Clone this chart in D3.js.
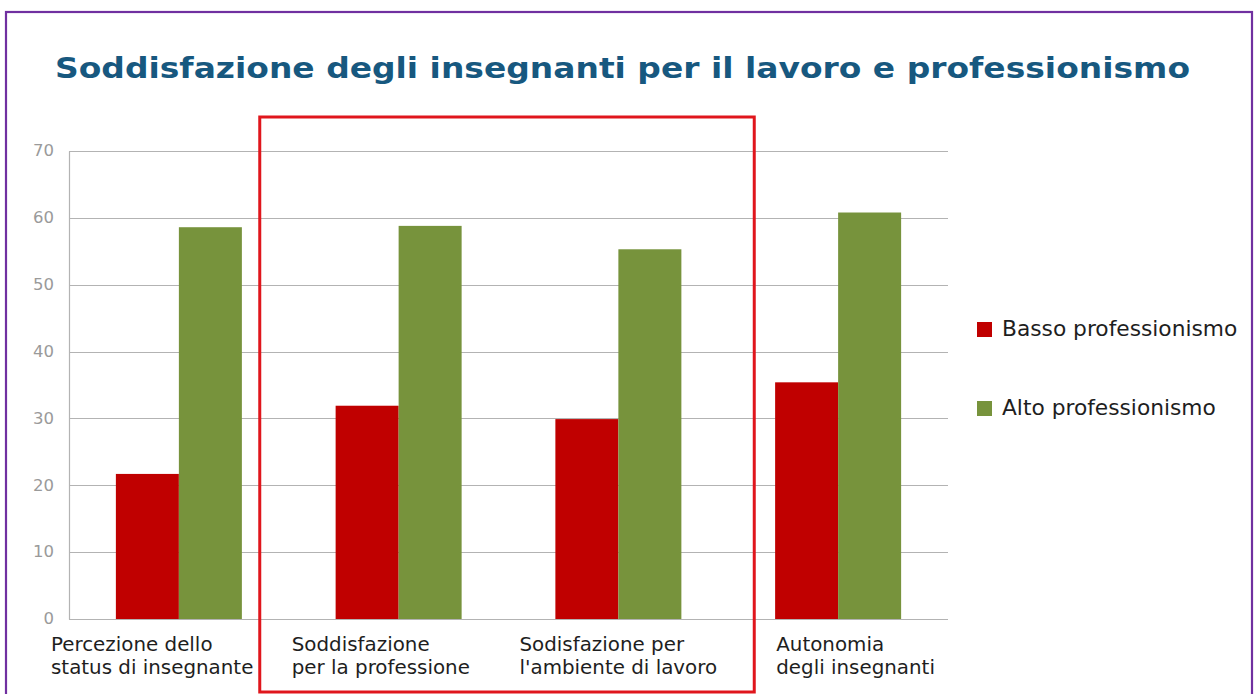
<!DOCTYPE html>
<html>
<head>
<meta charset="utf-8">
<script src="https://cdn.jsdelivr.net/npm/d3@7"></script>
<style>
  html, body { margin: 0; padding: 0; background: #ffffff; }
  svg { display: block; }
</style>
</head>
<body>
<svg id="chart" width="1256" height="694"></svg>
<script>
// Chart data
const titleText = "Soddisfazione degli insegnanti per il lavoro e professionismo";
const categories = [
  ["Percezione dello", "status di insegnante"],
  ["Soddisfazione", "per la professione"],
  ["Sodisfazione per", "l'ambiente di lavoro"],
  ["Autonomia", "degli insegnanti"]
];
const seriesNames = ["Basso professionismo", "Alto professionismo"];
const bassoValues = [21.7, 31.9, 29.9, 35.4];
const altoValues = [58.6, 58.8, 55.3, 60.8];
const yTicks = [0, 10, 20, 30, 40, 50, 60, 70];
const highlighted = [1, 2]; // categories framed by the red box

// Layout
const W = 1256, H = 694;
const plot = { left: 69, right: 948, top: 151, bottom: 619 };
const colors = ["#c00000", "#77933c"];
const labelNudge = [-18, 3, 11, 48];

const svg = d3.select("#chart");

// Widen text glyphs horizontally by a factor
function widen(sel, factor) {
  sel.each(function () {
    const w = this.getComputedTextLength();
    d3.select(this)
      .attr("textLength", w * factor)
      .attr("lengthAdjust", "spacingAndGlyphs");
  });
}

// Outer frame
svg.append("rect")
  .attr("x", 6).attr("y", 12)
  .attr("width", 1246).attr("height", 700)
  .attr("fill", "#ffffff")
  .attr("stroke", "#7030a0").attr("stroke-width", 2.2);

// Title
svg.append("text")
  .attr("x", 55).attr("y", 78)
  .attr("font-family", "DejaVu Sans")
  .attr("font-weight", "bold")
  .attr("font-size", 29)
  .attr("fill", "#17587f")
  .attr("textLength", 1135)
  .attr("lengthAdjust", "spacingAndGlyphs")
  .text(titleText);

// Scales
const x0 = d3.scaleBand()
  .domain(d3.range(categories.length))
  .range([plot.left, plot.right])
  .paddingInner(0).paddingOuter(0);

const x1 = d3.scaleBand()
  .domain(d3.range(seriesNames.length))
  .range([0, x0.bandwidth()])
  .paddingInner(0).paddingOuter(0.744);

const y = d3.scaleLinear().domain([0, 70]).range([plot.bottom, plot.top]);

// Grid lines
svg.append("g")
  .selectAll("line")
  .data(yTicks)
  .join("line")
  .attr("x1", plot.left).attr("x2", plot.right)
  .attr("y1", d => Math.round(y(d)) + 0.5)
  .attr("y2", d => Math.round(y(d)) + 0.5)
  .attr("stroke", "#b3b3b3").attr("stroke-width", 1.2);

// Y axis (labels only, plus the vertical line)
const yAxis = d3.axisLeft(y).tickValues(yTicks).tickSize(0).tickPadding(15);
const yg = svg.append("g")
  .attr("transform", `translate(${plot.left},0)`)
  .call(yAxis);
yg.select(".domain").attr("stroke", "#b3b3b3").attr("stroke-width", 1.2);
yg.selectAll("text")
  .attr("font-family", "DejaVu Sans")
  .attr("font-size", 15)
  .attr("fill", "#9a9a9a")
  .call(widen, 1.1);

// Bars
const seriesData = [bassoValues, altoValues];
const groups = svg.append("g")
  .selectAll("g")
  .data(categories.map((c, i) => i))
  .join("g")
  .attr("transform", i => `translate(${x0(i)},0)`);

groups.selectAll("rect")
  .data(i => seriesData.map((vals, s) => ({ s, v: vals[i] })))
  .join("rect")
  .attr("x", d => x1(d.s))
  .attr("width", x1.bandwidth())
  .attr("y", d => y(d.v))
  .attr("height", d => y(0) - y(d.v))
  .attr("fill", d => colors[d.s]);

// Category labels (two lines each)
const labelG = svg.append("g")
  .attr("font-family", "DejaVu Sans")
  .attr("font-size", 19)
  .attr("fill", "#1e1e1e");
categories.forEach((lines, i) => {
  lines.forEach((ln, k) => {
    labelG.append("text")
      .attr("x", x0(i) + labelNudge[i])
      .attr("y", 651 + k * 23)
      .text(ln);
  });
});
labelG.selectAll("text").call(widen, 1.045);

// Highlight box around the middle categories
const boxLeft = x0(highlighted[0]) - 29;
const boxRight = x0(highlighted[1]) + x0.bandwidth() + 26;
svg.append("rect")
  .attr("x", boxLeft).attr("y", 117)
  .attr("width", boxRight - boxLeft).attr("height", 575)
  .attr("fill", "none")
  .attr("stroke", "#e0161c").attr("stroke-width", 3);

// Legend
const legend = svg.append("g")
  .selectAll("g")
  .data(seriesNames)
  .join("g")
  .attr("transform", (d, i) => `translate(977,${322 + i * 79})`);
legend.append("rect")
  .attr("width", 15).attr("height", 15)
  .attr("fill", (d, i) => colors[i]);
legend.append("text")
  .attr("x", 25).attr("y", 14)
  .attr("font-family", "DejaVu Sans")
  .attr("font-size", 21)
  .attr("fill", "#1e1e1e")
  .text(d => d)
  .call(widen, 1.035);
</script>
</body>
</html>
